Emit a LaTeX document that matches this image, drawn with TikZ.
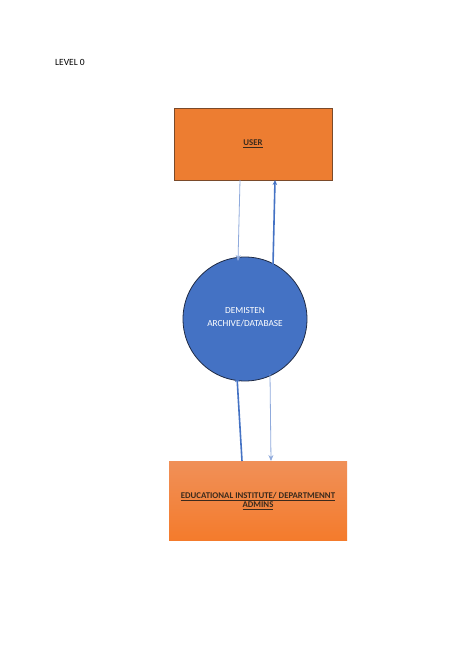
\documentclass[tikz,border=0pt]{standalone}
\usepackage{fontspec}
\setmainfont{Carlito}
\usetikzlibrary{arrows.meta}
\definecolor{userorange}{HTML}{ED7D31}
\definecolor{userborder}{HTML}{7A4A2A}
\definecolor{adminlight}{HTML}{F09058}
\definecolor{admindark}{HTML}{F47B2C}
\definecolor{dbblue}{HTML}{4472C4}
\definecolor{dbborder}{HTML}{1F2A44}
\definecolor{flowblue}{HTML}{4472C4}
\definecolor{flowlight}{HTML}{8FAADC}
\definecolor{labeldark}{HTML}{3B2A1C}
\tikzset{
  entity/.style={font=\fontsize{8.8}{10.5}\selectfont\bfseries, text=labeldark, align=center},
  flowthin/.style={draw=flowlight, line width=0.8pt, -{Stealth[length=6pt,width=5pt]}},
  flowthick/.style={draw=flowblue, line width=1.6pt, -{Stealth[length=5pt,width=4.5pt]}}
}
\begin{document}
\begin{tikzpicture}[x=1pt,y=-1pt]
\useasboundingbox[fill=white] (0,0) rectangle (474,669);
\node[font=\fontsize{9.5}{11}\selectfont, anchor=west, inner sep=0pt] (level) at (55,62) {LEVEL 0};

\node[draw=userborder, line width=0.8pt, fill=userorange, minimum width=158pt, minimum height=72pt, inner sep=0pt] (user) at (253,144) {};
\node[entity] (userlabel) at (user.center) {\underline{USER}};

\node[draw=dbborder, line width=0.8pt, fill=dbblue, circle, minimum size=124pt, inner sep=0pt] (db) at (245,319) {};
\node[font=\fontsize{9.3}{12.5}\selectfont, text=white, align=center] (dblabel) at (245,317) {DEMISTEN\\ARCHIVE/DATABASE};

\node[top color=adminlight, bottom color=admindark, minimum width=178pt, minimum height=79pt, inner sep=0pt] (admin) at (258,500.5) {};
\node[entity, align=center] (adminlabel) at (258,501) {\underline{EDUCATIONAL INSTITUTE/ DEPARTMENNT}\\[-1pt]\underline{ADMINS}};

\coordinate (u1) at (240,180);
\coordinate (d1) at (238,261);
\coordinate (d2) at (273,265);
\coordinate (u2) at (275,180);
\coordinate (a1) at (242,461);
\coordinate (d3) at (237,377);
\coordinate (d4) at (270,374);
\coordinate (a2) at (271,461);

\path[flowthin] (u1) -- (d1);
\path[flowthick] (d2) -- (u2);
\path[flowthick] (a1) -- (d3);
\path[flowthin] (d4) -- (a2);
\end{tikzpicture}
\end{document}
